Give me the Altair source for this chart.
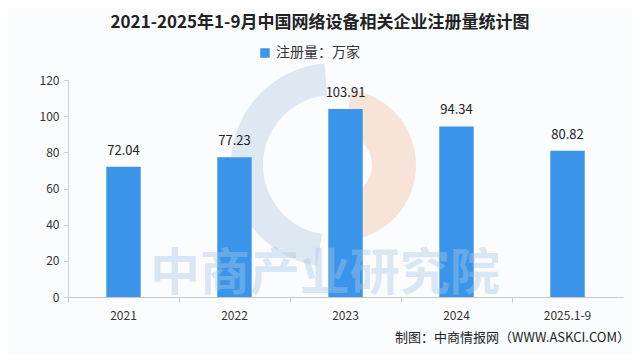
import altair as alt
import pandas as pd

years = ["2021", "2022", "2023", "2024", "2025.1-9"]
values = [72.04, 77.23, 103.91, 94.34, 80.82]
series_name = "注册量：万家"
title_text = ["2021-2025年1-9月中国网络设备相关企业注册量统计图"]
source_text = ["制图：中商情报网（WWW.ASKCI.COM）"]
watermark_text = ["中商产业研究院"]
y_ticks = [0, 20, 40, 60, 80, 100, 120]

FONT = "Noto Sans CJK SC"
BLUE = "#3a95ea"

df = pd.DataFrame({"year": years, "value": values, "series": [series_name] * len(years)})

x_enc = alt.X("year:N", sort=years, title=None,
              scale=alt.Scale(paddingInner=0, paddingOuter=0),
              axis=alt.Axis(labelAngle=0, labelFont=FONT, labelFontSize=12, labelColor="#333333",
                            domainColor="#c8c8c8", tickColor="#c8c8c8", tickSize=5,
                            bandPosition=0, labelPadding=8, labelBound=False))
y_enc = alt.Y("value:Q", title=None,
              scale=alt.Scale(domain=[0, 120]),
              axis=alt.Axis(values=y_ticks, tickCount=7, grid=False, labelOverlap=False,
                            labelFont=FONT, labelFontSize=12, labelColor="#333333",
                            domainColor="#d0d0d0", tickColor="#d0d0d0", tickSize=5,
                            labelPadding=4))

base = alt.Chart(df)

one = pd.DataFrame({"k": [0]})
# faint logo ring (decoration)
logo_blue = alt.Chart(one).mark_arc(
    theta=3.3, theta2=6.2, radius=102, radius2=70, color="#dde8f2"
).encode(x=alt.value(265), y=alt.value(85))
logo_red = alt.Chart(one).mark_arc(
    theta=0.15, theta2=3.0, radius=76, radius2=32, color="#f8e3d8"
).encode(x=alt.value(272), y=alt.value(85))

bars = base.mark_bar(width=alt.RelativeBandSize(0.31), color=BLUE).encode(
    x=x_enc, y=y_enc,
    color=alt.Color("series:N", scale=alt.Scale(range=[BLUE]),
                    legend=alt.Legend(title=None, orient="none", legendX=190, legendY=-34,
                                      symbolType="square", symbolSize=90,
                                      labelFont=FONT, labelFontSize=14, labelColor="#333333")),
)

labels = base.mark_text(baseline="bottom", dy=-9, font=FONT, fontSize=13, color="#222222").encode(
    x=x_enc, y=y_enc, text=alt.Text("value:Q", format=".2f")
)

watermark = alt.Chart(pd.DataFrame({"t": watermark_text})).mark_text(
    font=FONT, fontSize=50, fontWeight="bold", color="#a8c8e6", opacity=0.4,
    align="center", baseline="alphabetic"
).encode(x=alt.value(257), y=alt.value(210), text="t:N")

title = alt.Chart(pd.DataFrame({"t": title_text})).mark_text(
    font=FONT, fontSize=17, fontWeight="bold", color="#222222", align="center", baseline="alphabetic"
).encode(x=alt.value(252), y=alt.value(-52), text="t:N")

source = alt.Chart(pd.DataFrame({"t": source_text})).mark_text(
    font=FONT, fontSize=13, color="#222222", align="right", baseline="alphabetic"
).encode(x=alt.value(562), y=alt.value(262), text="t:N")

chart = alt.layer(logo_blue, logo_red, bars, labels, watermark, title, source).properties(
    width=555, height=217,
    padding={"left": 60, "top": 72, "right": 9, "bottom": 58},
    autosize=alt.AutoSizeParams(type="none"),
    background="#fbfcfe",
).configure_view(stroke=None)

chart.save("out.html", embed_options={"renderer": "svg", "actions": False})
